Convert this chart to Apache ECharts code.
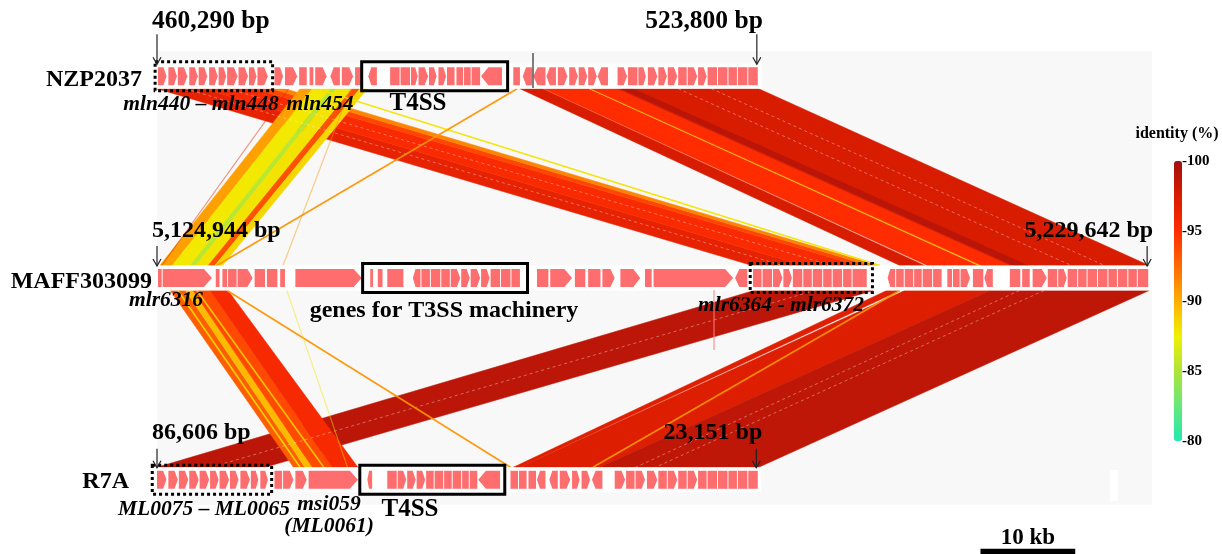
<!DOCTYPE html>
<html>
<head>
<meta charset="utf-8">
<script src="https://cdn.jsdelivr.net/npm/echarts@6/dist/echarts.min.js"></script>
<style>
  html, body { margin: 0; padding: 0; background: #ffffff; }
  #main { width: 1222px; height: 554px; }
</style>
</head>
<body>
<div id="main"></div>
<script>
// ---- Tracks: names and genomic coordinates (bp) at the left and right ends ----
const trackNames = ['NZP2037', 'MAFF303099', 'R7A'];
const trackStartBp = [460290, 5124944, 86606];
const trackEndBp = [523800, 5229642, 23151];

// ---- Genes: [start kb, end kb, strand] measured from the left end of each track ----
const genesNZP = [
  [0.1, 1.0, 1], [1.2, 2.1, 1], [2.2, 3.2, 1], [3.4, 4.3, 1], [4.4, 5.3, 1], [5.5, 6.4, 1],
  [6.5, 7.3, 1], [7.4, 8.5, 1], [8.6, 9.6, 1], [9.7, 10.5, 1], [10.6, 11.7, 1],
  [12.4, 13.3, 1], [13.5, 14.8, 1], [15.0, 15.8, 0], [16.1, 16.5, 0], [16.7, 17.9, 1],
  [18.3, 19.3, -1], [19.5, 20.7, 1], [20.9, 21.5, 0],
  [22.3, 23.2, -1], [24.6, 25.6, 0], [25.7, 26.7, 0], [26.8, 27.5, 1], [27.6, 28.6, 1],
  [28.7, 29.5, 1], [29.7, 30.5, 1], [30.6, 31.4, 0], [31.6, 32.3, 0], [32.4, 33.1, 0],
  [33.2, 34.1, 0], [34.2, 36.4, -1],
  [37.6, 38.3, 0], [38.6, 39.6, -1], [39.7, 41.0, -1], [41.1, 42.1, -1], [42.3, 43.3, 1],
  [43.5, 44.4, 1], [44.5, 45.4, 1], [45.5, 46.4, 1], [46.5, 47.6, -1],
  [48.6, 49.6, 1], [49.7, 50.7, 0], [50.8, 51.6, 1], [51.8, 52.8, 1], [52.9, 53.8, 1],
  [53.9, 54.9, 1], [55.0, 55.9, 0], [56.0, 57.0, 1], [57.1, 58.0, 1], [58.1, 59.1, 0],
  [59.2, 60.2, 0], [60.3, 61.2, 0], [61.3, 62.3, 0], [62.4, 63.4, 0]
];
const genesMAFF = [
  [0.1, 0.5, 0], [0.6, 5.8, 1], [6.2, 6.6, 0], [6.9, 7.4, 0], [7.5, 8.4, 0], [8.5, 10.1, 1],
  [10.3, 11.4, 0], [11.6, 12.7, 0], [13.0, 13.5, 0], [14.6, 21.6, 1],
  [22.5, 22.8, 0], [23.3, 23.8, 0], [24.3, 26.0, 0], [27.0, 27.8, -1], [27.9, 28.8, 0],
  [28.9, 29.9, 0], [30.0, 30.9, 0], [31.0, 32.0, 1], [32.1, 33.0, 1], [33.1, 34.1, 1],
  [34.2, 35.1, 1], [35.2, 36.2, 0], [36.3, 37.3, 0], [37.4, 38.3, 0],
  [40.1, 41.3, 0], [41.5, 43.8, 1], [44.1, 45.2, 0], [45.5, 46.8, 0], [47.0, 48.3, 1],
  [48.9, 51.0, 1], [51.5, 52.2, 0], [52.4, 60.8, 1], [61.0, 62.3, -1],
  [62.9, 63.8, 0], [63.9, 64.9, 0], [65.0, 66.0, 1], [66.1, 67.0, 1], [67.1, 68.1, 0],
  [68.2, 69.1, 0], [69.2, 70.2, 0], [70.3, 71.2, 0], [71.3, 72.3, 0], [72.4, 73.3, 0],
  [73.4, 74.9, 0],
  [77.1, 77.9, -1], [78.0, 78.8, 0], [78.9, 79.8, 0], [79.9, 80.7, 0], [80.8, 81.8, 0],
  [81.9, 82.8, 0], [83.4, 83.9, 0], [84.0, 84.7, 0], [84.8, 85.8, 1], [86.1, 87.2, 0],
  [87.3, 88.2, -1],
  [90.0, 91.1, 0], [91.3, 92.1, 0], [92.4, 93.9, 1], [94.0, 95.0, 0], [95.1, 96.0, 1],
  [96.1, 97.1, 0], [97.2, 98.1, 0], [98.2, 99.2, 0], [99.3, 100.3, 0], [100.4, 101.3, 0],
  [101.4, 102.4, 0], [102.5, 103.4, 0], [103.5, 104.6, 0]
];
const genesR7A = [
  [0.0, 1.0, 1], [1.2, 2.2, 1], [2.3, 3.3, 1], [3.4, 4.4, 1], [4.5, 5.5, 1], [5.6, 6.5, 1],
  [6.6, 7.6, 1], [7.7, 8.6, 1], [8.8, 9.8, 1], [9.9, 10.7, 1], [10.9, 11.7, 1],
  [12.4, 13.2, 0], [13.3, 14.4, 1], [14.6, 15.8, 1], [16.0, 21.2, 1],
  [22.2, 22.7, -1], [24.3, 25.3, 0], [25.4, 26.3, 1], [26.4, 27.3, 1], [27.4, 28.3, 1],
  [28.4, 29.2, 0], [29.3, 30.2, 0], [30.3, 31.1, 0], [31.2, 32.1, 0], [32.2, 32.9, 0],
  [33.0, 33.8, 0], [33.9, 36.2, -1],
  [37.3, 38.1, 0], [38.2, 39.0, 0], [39.2, 40.0, 0], [40.1, 41.0, -1], [41.4, 42.3, -1],
  [42.5, 43.6, 1], [43.8, 44.6, 1], [44.8, 45.7, 1], [45.9, 47.0, -1],
  [48.3, 49.4, 1], [49.5, 50.4, 0], [50.5, 51.5, 1], [51.7, 52.8, 1], [52.9, 53.8, 0],
  [53.9, 54.9, 1], [55.0, 55.9, 0], [56.0, 57.0, 1], [57.1, 58.0, 0], [58.1, 59.1, 0],
  [59.2, 60.2, 0], [60.3, 61.2, 0], [61.3, 62.3, 0], [62.4, 63.4, 0]
];

// ---- Highlighted regions: [track index, start kb, end kb] ----
const dottedRegions = [[0, -0.2, 12.2], [1, 62.6, 75.5], [2, -0.5, 12.1]];
const solidRegions = [[0, 21.6, 37.0], [1, 21.7, 39.1], [2, 21.4, 36.7]];

// ---- Similarity blocks: [upper start kb, upper end kb, lower start kb, lower end kb, identity %] ----
const linksNZPtoMAFF = [
  [0.0, 5.0, 62.8, 68.2, 96.6],
  [5.0, 10.3, 68.2, 74.0, 95.3],
  [10.3, 12.1, 74.0, 75.2, 94.0],
  [12.1, 13.5, 75.2, 76.1, 91.5],
  [38.3, 40.7, 78.4, 81.0, 97.5],
  [40.8, 45.6, 81.3, 86.7, 95.0],
  [45.6, 45.8, 86.7, 87.0, 89.0],
  [45.8, 48.5, 87.0, 90.0, 95.0],
  [48.5, 63.5, 90.0, 104.7, 97.5],
  [49.0, 50.2, 90.4, 91.9, 98.9],
  [15.1, 16.4, 0.3, 1.6, 90.5],
  [16.4, 18.3, 1.6, 3.5, 87.8],
  [18.3, 18.9, 3.5, 4.1, 85.5],
  [18.9, 20.6, 4.1, 5.4, 88.0],
  [20.6, 21.4, 5.4, 6.1, 93.5],
  [21.4, 22.2, 6.1, 6.9, 88.5]
];
const linksMAFFtoR7A = [
  [63.0, 75.6, 0.0, 11.4, 98.8],
  [77.0, 78.4, 37.6, 38.3, 97.0],
  [78.9, 87.9, 38.3, 46.7, 97.2],
  [87.9, 104.7, 46.7, 63.5, 98.6],
  [1.4, 3.0, 14.4, 15.6, 93.0],
  [3.0, 3.8, 15.6, 16.4, 89.5],
  [3.8, 5.6, 16.4, 18.5, 93.8],
  [5.6, 7.5, 18.5, 21.2, 95.5]
];
// Single-gene hits drawn as thin lines: [upper kb, lower kb, identity %]
const lineLinksNZPtoMAFF = [[16.9, 76.3, 88.0], [38.0, 6.3, 91.0]];
const lineLinksMAFFtoR7A = [[7.4, 37.3, 91.0], [78.4, 46.0, 91.0], [2.2, 15.1, 88.5], [4.2, 17.6, 89.0]];
const faintLinksNZPtoMAFF = [[13.9, 0.5, 97.0], [20.4, 13.3, 91.0]];
const faintLinksMAFFtoR7A = [[13.7, 20.1, 88.0]];
// Seams between adjacent alignment blocks inside the wide bands: [upper kb, lower kb]
const seamsNZPtoMAFF = [[3.0, 66.0], [7.5, 71.2], [55.0, 96.5], [58.5, 100.0]];
const seamsMAFFtoR7A = [[69.4, 5.7], [91.0, 50.5], [93.6, 52.6]];

// ---- Identity colour scale ticks and scale bar (kb) ----
const identityTicks = [100, 95, 90, 85, 80];
const scaleBarKb = [86.9, 96.9];

// ---- derived values ----
const ROW = [2, 1, 0];
const lengthsKb = trackStartBp.map((s, i) => Math.abs(trackEndBp[i] - s) / 1000);
const fmtBp = n => n.toString().replace(/\B(?=(\d{3})+(?!\d))/g, ',') + ' bp';

const STRIP_HALF = 12.5, GENE_HALF = 9, BOX_HALF = 14.5;
const SERIF = '"Liberation Serif", "Times New Roman", serif';

// link records: [a1, a2, b1, b2, identity, upperRow, lowerRow, kind]
const linkData = [];
linksNZPtoMAFF.forEach(l => linkData.push([l[0], l[1], l[2], l[3], l[4], 2, 1, 0]));
linksMAFFtoR7A.forEach(l => linkData.push([l[0], l[1], l[2], l[3], l[4], 1, 0, 0]));
seamsNZPtoMAFF.forEach(l => linkData.push([l[0], l[0], l[1], l[1], 100, 2, 1, 3]));
seamsMAFFtoR7A.forEach(l => linkData.push([l[0], l[0], l[1], l[1], 100, 1, 0, 3]));
lineLinksNZPtoMAFF.forEach(l => linkData.push([l[0], l[0], l[1], l[1], l[2], 2, 1, 1]));
lineLinksMAFFtoR7A.forEach(l => linkData.push([l[0], l[0], l[1], l[1], l[2], 1, 0, 1]));
faintLinksNZPtoMAFF.forEach(l => linkData.push([l[0], l[0], l[1], l[1], l[2], 2, 1, 2]));
faintLinksMAFFtoR7A.forEach(l => linkData.push([l[0], l[0], l[1], l[1], l[2], 1, 0, 2]));

const geneData = [];
[genesNZP, genesMAFF, genesR7A].forEach((list, t) =>
  list.forEach(g => geneData.push([g[0], g[1], g[2], ROW[t]])));

const regionData = [];
dottedRegions.forEach(r => regionData.push([ROW[r[0]], r[1], r[2], 1]));
solidRegions.forEach(r => regionData.push([ROW[r[0]], r[1], r[2], 0]));

function renderLink(params, api) {
  const yTop = api.coord([0, api.value(5)])[1] + STRIP_HALF;
  const yBot = api.coord([0, api.value(6)])[1] - STRIP_HALF;
  const x = v => api.coord([v, 0])[0];
  const kind = api.value(7);
  const color = api.visual('color');
  if (kind === 0) {
    return {
      type: 'polygon',
      shape: { points: [[x(api.value(0)), yTop], [x(api.value(1)), yTop], [x(api.value(3)), yBot], [x(api.value(2)), yBot]] },
      style: { fill: color, stroke: color, lineWidth: 0.5 }
    };
  }
  if (kind === 3) {
    return {
      type: 'line',
      shape: { x1: x(api.value(0)), y1: yTop, x2: x(api.value(2)), y2: yBot },
      style: { stroke: '#ffffff', lineWidth: 0.8, lineDash: [3, 3], opacity: 0.45 }
    };
  }
  return {
    type: 'line',
    shape: { x1: x(api.value(0)), y1: yTop, x2: x(api.value(2)), y2: yBot },
    style: { stroke: color, lineWidth: kind === 1 ? 1.6 : 1.2, opacity: kind === 1 ? 0.95 : 0.45 }
  };
}

function renderStrip(params, api) {
  const p0 = api.coord([api.value(0), api.value(2)]);
  const p1 = api.coord([api.value(1), api.value(2)]);
  return {
    type: 'rect',
    shape: { x: p0[0] - 2, y: p0[1] - STRIP_HALF, width: p1[0] - p0[0] + 5, height: STRIP_HALF * 2 },
    style: { fill: '#ffffff' }
  };
}

function renderGene(params, api) {
  const p0 = api.coord([api.value(0), api.value(3)]);
  const p1 = api.coord([api.value(1), api.value(3)]);
  const strand = api.value(2);
  const y = p0[1], h = GENE_HALF;
  const w = p1[0] - p0[0];
  const head = Math.min(8, w * 0.35);
  let pts;
  if (strand > 0) {
    pts = [[p0[0], y - h], [p1[0] - head, y - h], [p1[0], y], [p1[0] - head, y + h], [p0[0], y + h]];
  } else if (strand < 0) {
    pts = [[p0[0], y], [p0[0] + head, y - h], [p1[0], y - h], [p1[0], y + h], [p0[0] + head, y + h]];
  } else {
    pts = [[p0[0], y - h], [p1[0], y - h], [p1[0], y + h], [p0[0], y + h]];
  }
  return { type: 'polygon', shape: { points: pts }, style: { fill: '#ff6e6e' } };
}

function renderRegion(params, api) {
  const p0 = api.coord([api.value(1), api.value(0)]);
  const p1 = api.coord([api.value(2), api.value(0)]);
  const dotted = api.value(3) === 1;
  return {
    type: 'rect',
    shape: { x: p0[0], y: p0[1] - BOX_HALF, width: p1[0] - p0[0], height: BOX_HALF * 2 },
    style: { fill: 'none', stroke: '#000000', lineWidth: 3, lineDash: dotted ? [3, 3] : null }
  };
}

// end-of-track arrows and coordinate labels
const LABEL_DY = [-55, -47, -47];
const ARROW_TOP = [-42, -32, -31];
const LABEL_SIZE = [25.5, 24, 24];
function renderEnds(params, api) {
  const i = api.value(0);
  const ps = api.coord([0, ROW[i]]);
  const pe = api.coord([lengthsKb[i], ROW[i]]);
  const y = ps[1];
  const font = 'bold ' + LABEL_SIZE[i] + 'px ' + SERIF;
  const arrow = (x) => [
    { type: 'line', shape: { x1: x, y1: y + ARROW_TOP[i], x2: x, y2: y - 12 }, style: { stroke: '#222', lineWidth: 1.2 } },
    { type: 'polyline', shape: { points: [[x - 4, y - 19], [x, y - 12], [x + 4, y - 19]] }, style: { stroke: '#222', lineWidth: 1.2, fill: 'none' } }
  ];
  return {
    type: 'group',
    children: [
      ...arrow(ps[0]), ...arrow(pe[0] - 2),
      { type: 'text', style: { text: fmtBp(trackStartBp[i]), x: ps[0] - 5, y: y + LABEL_DY[i], font: font, textAlign: 'left', textVerticalAlign: 'middle', fill: '#000' } },
      { type: 'text', style: { text: fmtBp(trackEndBp[i]), x: pe[0] + 4, y: y + LABEL_DY[i], font: font, textAlign: 'right', textVerticalAlign: 'middle', fill: '#000' } }
    ]
  };
}

function renderScaleBar(params, api) {
  const p0 = api.coord([api.value(0), 0]);
  const p1 = api.coord([api.value(1), 0]);
  return {
    type: 'group',
    children: [
      { type: 'rect', shape: { x: p0[0], y: p0[1] + 69, width: p1[0] - p0[0], height: 6 }, style: { fill: '#000' } },
      { type: 'text', style: { text: (api.value(1) - api.value(0)).toFixed(0) + ' kb', x: (p0[0] + p1[0]) / 2, y: p0[1] + 58, font: 'bold 23px ' + SERIF, textAlign: 'center', textVerticalAlign: 'middle', fill: '#000' } }
    ]
  };
}

const txt = (text, x, y, opts) => ({
  type: 'text', silent: true, z: 100,
  style: Object.assign({ text, x, y, font: 'bold 25px ' + SERIF, textAlign: 'center', textVerticalAlign: 'middle', fill: '#000' }, opts || {})
});
const ital = 'italic bold 21.5px ' + SERIF;
const nameFont = 'bold 24px ' + SERIF;

const graphic = [
  txt(trackNames[0], 142, 80, { textAlign: 'right', font: nameFont }),
  txt(trackNames[1], 152, 282, { textAlign: 'right', font: nameFont }),
  txt(trackNames[2], 129, 482, { textAlign: 'right', font: nameFont }),
  txt('mln440 – mln448', 201, 104, { font: ital }),
  txt('mln454', 320, 104, { font: ital }),
  txt('T4SS', 418, 104),
  txt('mlr6316', 166, 300, { font: ital }),
  txt('genes for T3SS machinery', 444, 311, { font: 'bold 24px ' + SERIF }),
  txt('mlr6364 - mlr6372', 781, 305, { font: ital }),
  txt('ML0075 – ML0065', 204, 509, { font: ital }),
  txt('msi059', 329, 504, { font: ital }),
  txt('(ML0061)', 329, 526, { font: ital }),
  txt('T4SS', 410, 510),
  txt('identity (%)', 1177, 134, { font: 'bold 16px ' + SERIF }),
  // stray marks on the tracks
  { type: 'line', silent: true, z: 100, shape: { x1: 533, y1: 53, x2: 533, y2: 88 }, style: { stroke: '#555', lineWidth: 1.5 } },
  { type: 'line', silent: true, z: 100, shape: { x1: 714, y1: 290, x2: 714, y2: 350 }, style: { stroke: '#ff8080', lineWidth: 1 } },
  { type: 'rect', silent: true, z: 100, shape: { x: 1110, y: 470, width: 8, height: 31 }, style: { fill: '#ffffff' } }
];
identityTicks.forEach(v => {
  graphic.push(txt('-' + v, 1182, 161 + (100 - v) * 14, { font: 'bold 15px ' + SERIF, textAlign: 'left' }));
});

const chart = echarts.init(document.getElementById('main'), null, { renderer: 'canvas' });
chart.setOption({
  animation: false,
  grid: { left: 157, right: 70, top: 51, bottom: 49, show: true, backgroundColor: '#f8f8f8', borderWidth: 0 },
  xAxis: { type: 'value', min: 0, max: 105, show: false },
  yAxis: { type: 'value', min: -0.125, max: 2.125, show: false },
  visualMap: {
    type: 'continuous', min: 80, max: 100, dimension: 4, seriesIndex: 0,
    orient: 'vertical', left: 1174, top: 161, itemWidth: 8, itemHeight: 280, padding: 0,
    calculable: false, text: null,
    inRange: { color: ['#22e8b0', '#66e87a', '#aee43a', '#f0f000', '#ffae00', '#ff6a00', '#ff2c00', '#d81c00', '#a01010'] }
  },
  graphic: { elements: graphic },
  series: [
    { type: 'custom', silent: true, data: linkData, renderItem: renderLink, z: 1 },
    { type: 'custom', silent: true, data: ROW.map((r, i) => [0, lengthsKb[i], r]), renderItem: renderStrip, z: 2 },
    { type: 'custom', silent: true, data: geneData, renderItem: renderGene, z: 3 },
    { type: 'custom', silent: true, data: regionData, renderItem: renderRegion, z: 4 },
    { type: 'custom', silent: true, data: [[0], [1], [2]], renderItem: renderEnds, z: 5 },
    { type: 'custom', silent: true, data: [scaleBarKb], renderItem: renderScaleBar, z: 5 }
  ]
});
</script>
</body>
</html>
